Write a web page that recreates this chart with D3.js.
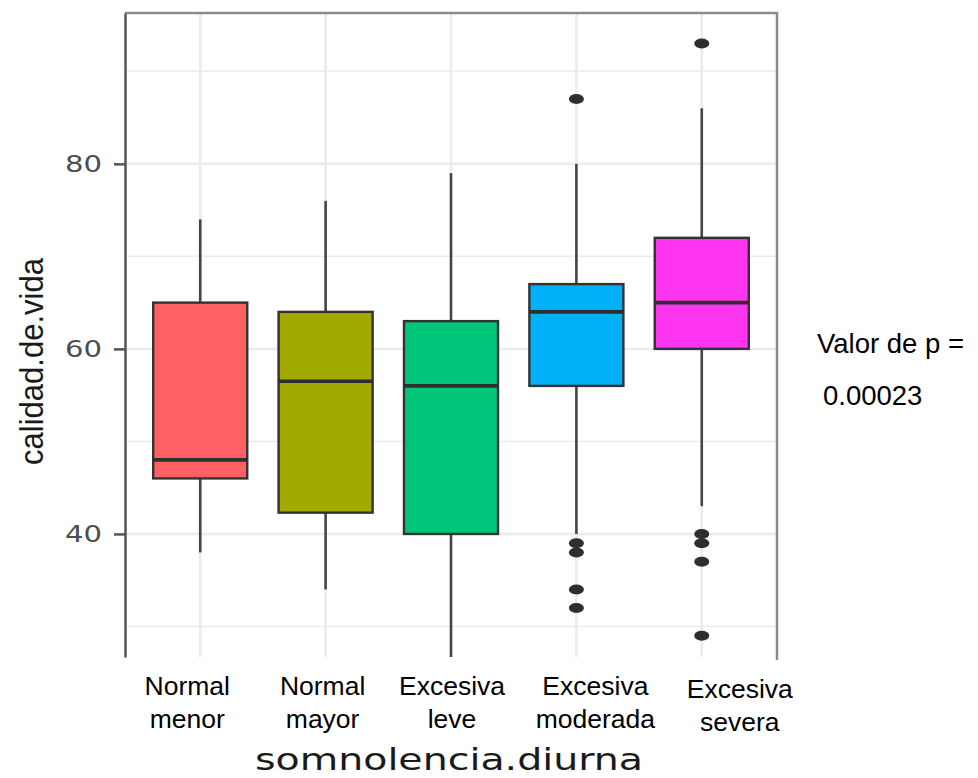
<!DOCTYPE html>
<html>
<head>
<meta charset="utf-8">
<script src="https://cdn.jsdelivr.net/npm/d3@7/dist/d3.min.js"></script>
<style>
  html, body { margin: 0; padding: 0; background: #fff; }
  svg { display: block; }
</style>
</head>
<body>
<script>
// ===================================================================
// data

const CATEGORIES = [ 'Normal menor', 'Normal mayor', 'Excesiva leve', 'Excesiva moderada', 'Excesiva severa' ]
const LABEL_LINES = [ [ 'Normal', 'menor' ], [ 'Normal', 'mayor' ], [ 'Excesiva', 'leve' ], [ 'Excesiva', 'moderada' ], [ 'Excesiva', 'severa' ] ]
const FILLS = [ '#fe6063', '#a2aa00', '#00c67a', '#00b1fa', '#fd35f0' ]

const WHISKER_LOW = [ 38, 34, 26, 40, 43 ]
const Q1 = [ 46, 42.3, 40, 56, 60 ]
const MEDIAN = [ 48, 56.5, 56, 64, 65 ]
const Q3 = [ 65, 64, 63, 67, 72 ]
const WHISKER_HIGH = [ 74, 76, 79, 80, 86 ]
const OUTLIERS = [ [], [], [], [ 87, 39, 38, 34, 32 ], [ 93, 40, 39, 37, 29 ] ]

const MAJOR_TICKS = [ 40, 60, 80 ]
const MINOR_TICKS = [ 30, 50, 70, 90 ]

const P_TEXT = [ 'Valor de p =', '0.00023' ]

// ===================================================================

const WIDTH = 978
const HEIGHT = 778

const PANEL = { left: 125, right: 777, top: 13, bottom: 657 }

// the category labels in the picture are not centred under their boxes
const LABEL_NUDGE = [ -13, -3, 1, 19, 38 ]
const LABEL_DROP = [ 0, 0, 0, 0, 3 ]

const GRID = '#ebebeb'

// ===================================================================

const svg = d3.select('body')
  .append('svg')
    .attr('width', WIDTH)
    .attr('height', HEIGHT)

svg.append('rect')
  .attr('width', WIDTH)
  .attr('height', HEIGHT)
  .attr('fill', '#fff')

const x = d3.scalePoint()
  .domain(CATEGORIES)
  .range([ PANEL.left, PANEL.right ])
  .padding(0.6)

const y = d3.scaleLinear()
  .domain([ 26.7, 96.3 ])
  .range([ PANEL.bottom, PANEL.top ])

const boxWidth = x.step() * 0.75

svg.append('defs')
  .append('clipPath')
    .attr('id', 'panel')
    .append('rect')
      .attr('x', PANEL.left)
      .attr('y', PANEL.top)
      .attr('width', PANEL.right - PANEL.left)
      .attr('height', PANEL.bottom - PANEL.top)

// grid
const grid = svg.append('g')

grid.selectAll('.minor')
  .data(MINOR_TICKS)
  .join('line')
    .attr('x1', PANEL.left)
    .attr('x2', PANEL.right)
    .attr('y1', d => y(d))
    .attr('y2', d => y(d))
    .attr('stroke', GRID)
    .attr('stroke-width', 1.5)

grid.selectAll('.major')
  .data(MAJOR_TICKS)
  .join('line')
    .attr('x1', PANEL.left)
    .attr('x2', PANEL.right)
    .attr('y1', d => y(d))
    .attr('y2', d => y(d))
    .attr('stroke', GRID)
    .attr('stroke-width', 2.5)

grid.selectAll('.vert')
  .data(CATEGORIES)
  .join('line')
    .attr('x1', d => x(d))
    .attr('x2', d => x(d))
    .attr('y1', PANEL.top)
    .attr('y2', PANEL.bottom)
    .attr('stroke', GRID)
    .attr('stroke-width', 2.5)

// panel border (top and right only)
svg.append('path')
  .attr('d', `M${PANEL.left},${PANEL.top}H${PANEL.right}V${PANEL.bottom + 3}`)
  .attr('fill', 'none')
  .attr('stroke', '#8c8c8c')
  .attr('stroke-width', 2.5)

// boxes
const boxes = svg.append('g')
  .attr('clip-path', 'url(#panel)')
  .selectAll('g')
  .data(CATEGORIES)
  .join('g')

boxes.append('line')
  .attr('x1', d => x(d))
  .attr('x2', d => x(d))
  .attr('y1', (d, i) => y(WHISKER_LOW[i]))
  .attr('y2', (d, i) => y(Q1[i]))
  .attr('stroke', '#454545')
  .attr('stroke-width', 2.6)

boxes.append('line')
  .attr('x1', d => x(d))
  .attr('x2', d => x(d))
  .attr('y1', (d, i) => y(Q3[i]))
  .attr('y2', (d, i) => y(WHISKER_HIGH[i]))
  .attr('stroke', '#454545')
  .attr('stroke-width', 2.6)

boxes.append('rect')
  .attr('x', d => x(d) - boxWidth / 2)
  .attr('width', boxWidth)
  .attr('y', (d, i) => y(Q3[i]))
  .attr('height', (d, i) => y(Q1[i]) - y(Q3[i]))
  .attr('fill', (d, i) => FILLS[i])
  .attr('stroke', '#333')
  .attr('stroke-width', 2.4)

boxes.append('line')
  .attr('x1', d => x(d) - boxWidth / 2)
  .attr('x2', d => x(d) + boxWidth / 2)
  .attr('y1', (d, i) => y(MEDIAN[i]))
  .attr('y2', (d, i) => y(MEDIAN[i]))
  .attr('stroke', '#2e2e2e')
  .attr('stroke-width', 3.6)

boxes.each(function (d, i) {
  d3.select(this).selectAll('ellipse')
    .data(OUTLIERS[i])
    .join('ellipse')
      .attr('cx', x(d))
      .attr('cy', v => y(v))
      .attr('rx', 7.5)
      .attr('ry', 5)
      .attr('fill', '#2e2e2e')
})

// y axis
const yAxis = svg.append('g')
  .attr('transform', `translate(${PANEL.left},0)`)
  .call(d3.axisLeft(y).tickValues(MAJOR_TICKS).tickSize(11).tickSizeOuter(0).tickPadding(12))

yAxis.select('.domain')
  .attr('stroke', '#555')
  .attr('stroke-width', 2.5)

yAxis.selectAll('.tick line')
  .attr('stroke', '#555')
  .attr('stroke-width', 2.5)

yAxis.selectAll('.tick text')
  .attr('fill', '#4d4d4d')
  .attr('font-family', 'DejaVu Sans')
  .attr('font-size', 23)
  .attr('textLength', 37)
  .attr('lengthAdjust', 'spacingAndGlyphs')

// category labels
const labels = svg.append('g')
  .attr('font-family', 'Liberation Sans, Arial, sans-serif')
  .attr('font-size', 26.5)
  .attr('fill', '#000')
  .attr('text-anchor', 'middle')
  .selectAll('text')
  .data(CATEGORIES)
  .join('text')
    .attr('transform', (d, i) => `translate(${x(d) + LABEL_NUDGE[i]},${695 + LABEL_DROP[i]})`)

labels.selectAll('tspan')
  .data((d, i) => LABEL_LINES[i])
  .join('tspan')
    .attr('x', 0)
    .attr('y', (d, j) => j * 32.5)
    .text(d => d)

// axis titles
svg.append('text')
  .attr('x', 449)
  .attr('y', 770)
  .attr('text-anchor', 'middle')
  .attr('font-family', 'DejaVu Sans')
  .attr('font-size', 31)
  .attr('fill', '#1a1a1a')
  .attr('textLength', 388)
  .attr('lengthAdjust', 'spacingAndGlyphs')
  .text('somnolencia.diurna')

svg.append('text')
  .attr('transform', 'translate(43,361.5) rotate(-90)')
  .attr('text-anchor', 'middle')
  .attr('font-family', 'Liberation Sans, Arial, sans-serif')
  .attr('font-size', 34)
  .attr('fill', '#1a1a1a')
  .attr('textLength', 207)
  .attr('lengthAdjust', 'spacingAndGlyphs')
  .text('calidad.de.vida')

// p value note
svg.append('text')
  .attr('x', 817)
  .attr('y', 353)
  .attr('font-family', 'Liberation Sans, Arial, sans-serif')
  .attr('font-size', 27.5)
  .attr('fill', '#000')
  .text(P_TEXT[0])

svg.append('text')
  .attr('x', 823)
  .attr('y', 405)
  .attr('font-family', 'Liberation Sans, Arial, sans-serif')
  .attr('font-size', 27.5)
  .attr('fill', '#000')
  .text(P_TEXT[1])
</script>
</body>
</html>
